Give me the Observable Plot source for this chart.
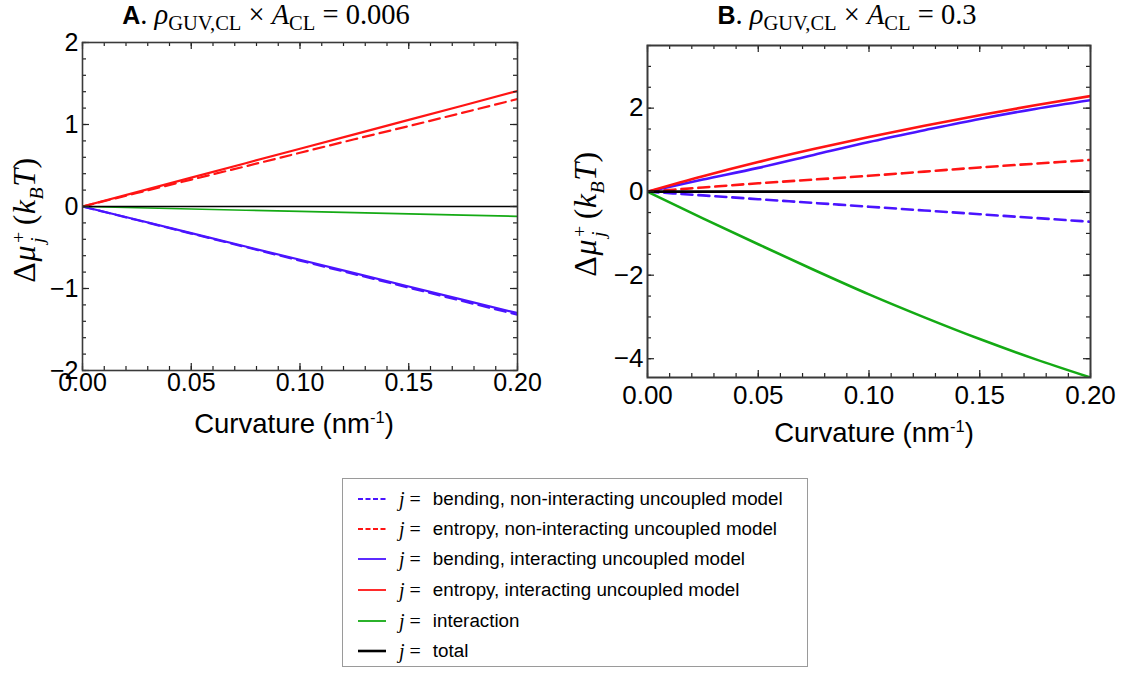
<!DOCTYPE html>
<html><head><meta charset="utf-8">
<script src="https://cdn.jsdelivr.net/npm/d3@7"></script>
<script src="https://cdn.jsdelivr.net/npm/@observablehq/plot@0.6"></script>
<style>
body{margin:0;background:#fff;}
#root{position:relative;width:1126px;height:673px;overflow:hidden;font-family:"Liberation Sans",Arial,sans-serif;color:#000;}
.abs{position:absolute;white-space:nowrap;}
.math{font-family:"Liberation Serif","DejaVu Serif",serif;}
.title{font-size:25px;transform:translate(-50%,-50%);}
.title .math{font-size:28.5px;}
.xlab{font-size:27.5px;transform:translate(-50%,-50%);}
.ylab{font-size:32px;transform:translate(-50%,-50%) rotate(-90deg);letter-spacing:0.5px;}
.stack{display:inline-flex;flex-direction:column;vertical-align:middle;font-size:0.62em;line-height:0.95;margin:0 6px 0 2px;}
#legend{position:absolute;left:342px;top:478px;width:466px;height:189px;border:1.5px solid #9a9a9a;box-sizing:border-box;}
.lrow{position:absolute;left:0;height:22px;display:flex;align-items:center;font-size:18.8px;transform:translateY(-50%);}
</style></head>
<body><div id="root">
<div class="abs title" style="left:266px;top:17px"><b>A</b><span class="math">. <i>ρ</i><sub style="font-size:0.72em">GUV,CL</sub> × <i>A</i><sub style="font-size:0.72em">CL</sub> = 0.006</span></div>
<div class="abs title" style="left:847px;top:17px"><b>B</b><span class="math">. <i>ρ</i><sub style="font-size:0.72em">GUV,CL</sub> × <i>A</i><sub style="font-size:0.72em">CL</sub> = 0.3</span></div>
<div class="abs ylab math" style="left:27px;top:220px">Δ<i>μ</i><span class="stack"><span>+</span><i>j</i></span>(<i>k</i><sub style="font-size:0.62em"><i>B</i></sub><i>T</i>)</div>
<div class="abs ylab math" style="left:588px;top:214px">Δ<i>μ</i><span class="stack"><span>+</span><i>j</i></span>(<i>k</i><sub style="font-size:0.62em"><i>B</i></sub><i>T</i>)</div>
<div class="abs xlab" style="left:294px;top:424px">Curvature (nm<sup style="font-size:0.6em">-1</sup>)</div>
<div class="abs xlab" style="left:874px;top:433px">Curvature (nm<sup style="font-size:0.6em">-1</sup>)</div>
<div id="panelA" class="abs" style="left:0;top:0"></div>
<div id="panelB" class="abs" style="left:595px;top:0"></div>
<div id="legend"></div>
</div>
<script>
// ---- data ----
const curvature = [0, 0.025, 0.05, 0.075, 0.1, 0.125, 0.15, 0.175, 0.2];
const seriesNames = [
  "bending, non-interacting uncoupled model",
  "entropy, non-interacting uncoupled model",
  "bending, interacting uncoupled model",
  "entropy, interacting uncoupled model",
  "interaction",
  "total"
];
const seriesColors = ["#4a14ff", "#ff1414", "#4a14ff", "#ff1414", "#14aa14", "#000000"];
const seriesDashed = [true, true, false, false, false, false];

// Panel A: rho*A = 0.006
const aBendingNon = [0, -0.165, -0.33, -0.495, -0.66, -0.825, -0.99, -1.155, -1.32];
const aEntropyNon = [0, 0.164, 0.328, 0.49, 0.655, 0.82, 0.98, 1.145, 1.31];
const aBendingInt = [0, -0.162, -0.325, -0.488, -0.65, -0.812, -0.975, -1.138, -1.30];
const aEntropyInt = [0, 0.176, 0.352, 0.528, 0.704, 0.88, 1.056, 1.232, 1.41];
const aInteraction = [0, -0.015, -0.03, -0.045, -0.06, -0.075, -0.09, -0.105, -0.12];
const aTotal = [0, 0, 0, 0, 0, 0, 0, 0, 0];

// Panel B: rho*A = 0.3
const bBendingNon = [0, -0.09, -0.18, -0.27, -0.36, -0.45, -0.54, -0.63, -0.72];
const bEntropyNon = [0, 0.10, 0.20, 0.29, 0.38, 0.48, 0.58, 0.67, 0.76];
const bBendingInt = [0, 0.29, 0.57, 0.88, 1.19, 1.47, 1.74, 1.98, 2.19];
const bEntropyInt = [0, 0.37, 0.71, 1.02, 1.31, 1.58, 1.83, 2.07, 2.29];
const bInteraction = [0, -0.64, -1.26, -1.87, -2.46, -3.01, -3.53, -4.01, -4.45];
const bTotal = [0, 0, 0, 0, 0, 0, 0, 0, 0];

const xMajor = [0, 0.05, 0.1, 0.15, 0.2];
const xMinor = d3.range(0, 21).map(i => i / 100);
const aYMajor = [-2, -1, 0, 1, 2];
const aYMinor = d3.range(-10, 11).map(i => i / 5);
const bYMajor = [-4, -2, 0, 2];
const bYMinor = d3.range(-8, 8).map(i => i / 2);

const fmtY = d => d < 0 ? "\u2212" + (-d) : String(d);

function makeTable(arrs) {
  const rows = [];
  arrs.forEach((arr, s) => arr.forEach((v, i) => rows.push({x: curvature[i], y: v, s})));
  return rows;
}

// inward frame ticks drawn as short rules (pixel insets)
function inwardTicks(ticksX, ticksY, size, W, H) {
  const o = {stroke: "#222", strokeWidth: 1.2};
  return [
    Plot.ruleX(ticksX, {...o, x: d => d, insetTop: H - size}),
    Plot.ruleX(ticksX, {...o, x: d => d, insetBottom: H - size}),
    Plot.ruleY(ticksY, {...o, y: d => d, insetRight: W - size}),
    Plot.ruleY(ticksY, {...o, y: d => d, insetLeft: W - size})
  ];
}

function panel({arrs, yDomain, yMajor, yMinor, width, height, margin, frameW, widths, xPad, fs, curve}) {
  const rows = makeTable(arrs);
  const W = width - margin[0] - margin[1];
  const H = height - margin[2] - margin[3];
  const lines = arrs.map((_, s) => Plot.line(rows.filter(r => r.s === s), {
    x: "x", y: "y",
    stroke: seriesColors[s],
    strokeWidth: widths[s],
    strokeDasharray: seriesDashed[s] ? "11,6" : null,
    curve,
    clip: true
  }));
  return Plot.plot({
    width, height,
    marginLeft: margin[0], marginRight: margin[1], marginTop: margin[2], marginBottom: margin[3],
    style: {fontFamily: "'Liberation Sans', Arial, sans-serif", background: "transparent", overflow: "visible"},
    x: {domain: [0, 0.2]},
    y: {domain: yDomain},
    marks: [
      ...lines,
      ...inwardTicks(xMinor, yMinor, 4, W, H),
      ...inwardTicks(xMajor, yMajor, 7, W, H),
      Plot.frame({stroke: "#3a3a3a", strokeWidth: frameW}),
      Plot.axisX({anchor: "bottom", ticks: xMajor, tickSize: 0, tickPadding: xPad, tickFormat: d3.format(".2f"), fontSize: fs, label: null, fill: "#000"}),
      Plot.axisY({anchor: "left", ticks: yMajor, tickSize: 0, tickPadding: 4, tickFormat: fmtY, fontSize: fs, label: null, fill: "#000"})
    ]
  });
}

document.getElementById("panelA").append(panel({
  arrs: [aBendingNon, aEntropyNon, aBendingInt, aEntropyInt, aInteraction, aTotal],
  yDomain: [-2, 2], yMajor: aYMajor, yMinor: aYMinor,
  width: 545, height: 410, margin: [82, 28, 42, 40], frameW: 1.6,
  widths: [2.2, 2.2, 2.2, 2.2, 1.6, 1.4], xPad: 3, fs: 25, curve: "linear"
}));
document.getElementById("panelB").append(panel({
  arrs: [bBendingNon, bEntropyNon, bBendingInt, bEntropyInt, bInteraction, bTotal],
  yDomain: [-4.45, 3.5], yMajor: bYMajor, yMinor: bYMinor,
  width: 525, height: 420, margin: [52, 30, 45, 43], frameW: 2,
  widths: [2.6, 2.6, 2.6, 2.6, 2.6, 2.6], xPad: 8, fs: 26, curve: "monotone-x"
}));

// legend
const leg = document.getElementById("legend");
const rowY = [20, 50, 80, 111, 142, 172];
seriesNames.forEach((name, i) => {
  const row = document.createElement("div");
  row.className = "lrow";
  row.style.top = rowY[i] + "px";
  row.style.left = "14px";
  const w = i === 5 ? 2.6 : 1.8;
  row.innerHTML = `<svg width="30" height="10" style="margin-right:12px"><line x1="1" x2="29" y1="5" y2="5" stroke="${seriesColors[i]}" stroke-width="${w}" ${seriesDashed[i] ? 'stroke-dasharray="5,2.5"' : ""}/></svg>` +
    `<span class="math" style="font-size:20px;margin-right:12px"><i>j</i> =</span><span>${name}</span>`;
  leg.append(row);
});
</script>
</body></html>
